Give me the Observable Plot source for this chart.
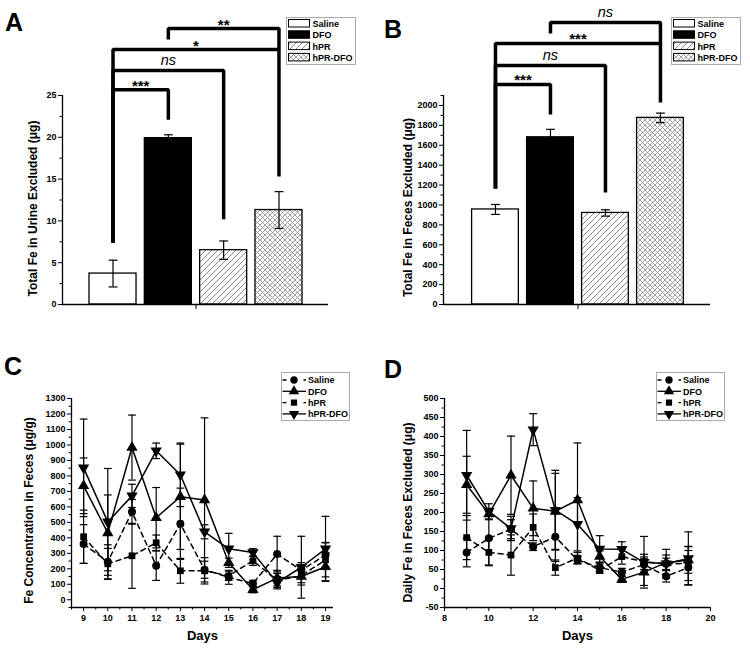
<!DOCTYPE html>
<html><head><meta charset="utf-8">
<script src="https://cdn.jsdelivr.net/npm/d3@7"></script>
<script src="https://cdn.jsdelivr.net/npm/@observablehq/plot@0.6"></script>
<style>
body{margin:0;background:#fff;}
#fig{position:relative;width:750px;height:658px;overflow:hidden;font-family:"Liberation Sans",Arial,sans-serif;}
.letter{position:absolute;font-weight:bold;font-size:25px;line-height:1;font-family:"Liberation Sans",Arial,sans-serif;}
</style></head><body>
<svg width="0" height="0" style="position:absolute;left:0;top:0"><defs>
<pattern id="hatch" patternUnits="userSpaceOnUse" width="6" height="6">
<rect width="6" height="6" fill="white"/>
<path d="M0,6 L6,0 M-1.5,1.5 L1.5,-1.5 M4.5,7.5 L7.5,4.5" stroke="#8a8a8a" stroke-width="1"/>
</pattern>
<pattern id="cross" patternUnits="userSpaceOnUse" width="5" height="5">
<rect width="5" height="5" fill="white"/>
<path d="M0,5 L5,0 M0,0 L5,5 M-1,1 L1,-1 M4,6 L6,4 M-1,4 L1,6 M4,-1 L6,1" stroke="#8a8a8a" stroke-width="0.8"/>
</pattern>
</defs></svg>
<div id="fig"></div>
<script>
// ---------- data ----------
const groups = ["Saline", "DFO", "hPR", "hPR-DFO"];
const groupPos = [1, 2, 3, 4];
const urineMean = [3.7, 19.9, 6.5, 11.3];
const urineErr = [1.6, 0.4, 1.1, 2.2];
const fecesMean = [955, 1680, 920, 1875];
const fecesErr = [50, 80, 32, 48];
const urineTicks = [0, 5, 10, 15, 20, 25];
const urineMinor = [2.5, 7.5, 12.5, 17.5, 22.5];
const fecesTicks = [0, 200, 400, 600, 800, 1000, 1200, 1400, 1600, 1800, 2000];
const fecesMinor = [100, 300, 500, 700, 900, 1100, 1300, 1500, 1700, 1900, 2100];
// [leftGroup, rightGroup, top, leftFoot, rightFoot, label]
const urineBrackets = [
  [0, 1, 25.7, 7.4, 22.1, "***"],
  [0, 2, 28.0, 7.4, 10.2, "ns"],
  [0, 3, 30.5, 7.4, 15.3, "*"],
  [1, 3, 33.0, 31.7, 30.5, "**"]
];
const fecesBrackets = [
  [0, 1, 2211, 1166, 1910, "***"],
  [0, 2, 2402, 1166, 1126, "ns"],
  [0, 3, 2623, 1166, 2030, "***"],
  [1, 3, 2834, 2723, 2623, "ns"]
];

const days = [9, 10, 11, 12, 13, 14, 15, 16, 17, 18, 19];
const concSaline = [360, 245, 568, 220, 491, 194, 145, 105, 295, 190, 290];
const concSalineErr = [125, 110, 80, 95, 230, 55, 45, 20, 115, 50, 80];
const concDFO = [736, 432, 983, 530, 665, 645, 239, 65, 140, 150, 213];
const concDFOErr = [180, 245, 210, 195, 340, 530, 30, 20, 50, 55, 90];
const concHPR = [407, 232, 284, 368, 187, 187, 155, 252, 125, 155, 258];
const concHPRErr = [172, 100, 210, 50, 80, 85, 30, 30, 45, 45, 110];
const concHPRDFO = [852, 503, 671, 962, 807, 439, 329, 305, 110, 210, 329];
const concHPRDFOErr = [315, 345, 75, 50, 205, 45, 100, 25, 40, 200, 210];

const dailySaline = [95, 132, 156, 110, 136, 75, 55, 43, 63, 32, 55];
const dailySalineErr = [38, 70, 25, 10, 65, 10, 10, 10, 20, 15, 45];
const dailyDFO = [273, 196, 298, 211, 203, 233, 84, 24, 43, 68, 75];
const dailyDFOErr = [75, 15, 103, 72, 100, 150, 15, 8, 35, 20, 35];
const dailyHPR = [134, 95, 88, 161, 55, 80, 48, 84, 70, 65, 66];
const dailyHPRErr = [58, 35, 53, 35, 20, 15, 8, 20, 20, 15, 45];
const dailyHPRDFO = [298, 203, 158, 418, 206, 169, 104, 103, 69, 65, 79];
const dailyHPRDFOErr = [118, 20, 32, 42, 105, 70, 35, 20, 68, 38, 70];

const concTicks = d3.range(0, 1301, 100);
const concMinor = d3.range(-50, 1300, 100);
const concXTicks = days;
const concXMinor = [8.5, 9.5, 10.5, 11.5, 12.5, 13.5, 14.5, 15.5, 16.5, 17.5, 18.5];
const dailyTicks = d3.range(-50, 501, 50);
const dailyMinor = d3.range(-25, 500, 50);
const dailyXTicks = [8, 10, 12, 14, 16, 18, 20];
const dailyXMinor = [9, 11, 13, 15, 17, 19];

// ---------- helpers ----------
const FONT = "Liberation Sans, Arial, sans-serif";
const barFill = {"Saline": "white", "DFO": "black", "hPR": "url(#hatch)", "hPR-DFO": "url(#cross)"};
const triangleDown = {
  draw(context, size) {
    const y = -Math.sqrt(size / (Math.sqrt(3) * 3));
    context.moveTo(0, -y * 2);
    context.lineTo(-Math.sqrt(3) * y, y);
    context.lineTo(Math.sqrt(3) * y, y);
    context.closePath();
  }
};
const fig = document.getElementById("fig");
function place(node, left, top) {
  node.style.position = "absolute";
  node.style.left = left + "px";
  node.style.top = top + "px";
  fig.appendChild(node);
}
function letter(t, left, top) {
  const d = document.createElement("div");
  d.className = "letter"; d.textContent = t;
  d.style.left = left + "px"; d.style.top = top + "px";
  fig.appendChild(d);
}
const svgStyle = {fontFamily: FONT, fontSize: "9px", fontWeight: "bold", background: "transparent", overflow: "visible"};

function barPanel(o) {
  const bars = groups.map((g, i) => ({g, x: groupPos[i], y: o.mean[i], e: o.err[i]}));
  const legs = o.brackets.flatMap((b, k) => {
    const xl = groupPos[b[0]], xr = groupPos[b[1]];
    return [{k, x: xl, y: b[3]}, {k, x: xl, y: b[2]}, {k, x: xr, y: b[2]}, {k, x: xr, y: b[4]}];
  });
  const labels = o.brackets.map(b => ({x: (groupPos[b[0]] + groupPos[b[1]]) / 2, y: b[2], t: b[5]}));
  const cw = 0.08;
  return Plot.plot({
    width: 375, height: 320, marginTop: 95, marginBottom: 16, marginLeft: o.ml, marginRight: o.mr,
    x: {domain: o.xdomain}, y: {domain: o.ydomain},
    style: svgStyle,
    marks: [
      ...bars.map(b => Plot.rectY([b], {x1: d => d.x - 0.425, x2: d => d.x + 0.425, y1: 0, y2: "y", fill: barFill[b.g], stroke: "black", strokeWidth: 1.3})),
      Plot.ruleX(bars, {x: "x", y1: d => d.y - d.e, y2: d => d.y + d.e, strokeWidth: 1.2}),
      Plot.link(bars, {x1: d => d.x - cw, x2: d => d.x + cw, y1: d => d.y + d.e, y2: d => d.y + d.e, strokeWidth: 1.2}),
      Plot.link(bars, {x1: d => d.x - cw, x2: d => d.x + cw, y1: d => d.y - d.e, y2: d => d.y - d.e, strokeWidth: 1.2}),
      Plot.line(legs, {x: "x", y: "y", z: "k", strokeWidth: 3.5, strokeLinejoin: "miter", strokeLinecap: "butt"}),
      Plot.text(labels.filter(d => d.t === "ns"), {x: "x", y: "y", text: "t", lineAnchor: "bottom", dy: -5, fontStyle: "italic", fontWeight: "normal", fontSize: 14.5}),
      Plot.text(labels.filter(d => d.t !== "ns"), {x: "x", y: "y", text: "t", lineAnchor: "bottom", dy: 1, fontWeight: "bold", fontSize: 15}),
      Plot.ruleX([o.xdomain[0]], {y1: o.ydomain[0], y2: o.ydomain[1], strokeWidth: 1.3}),
      Plot.ruleY([0], {x1: o.xdomain[0], x2: o.xdomain[1], strokeWidth: 1.3}),
      Plot.axisY({ticks: o.yticks, tickSize: 4, tickPadding: 2, tickFormat: d => String(d), label: null, fontWeight: "bold", fontSize: 9}),
      Plot.axisY({ticks: o.yminor, tickSize: 2.5, tickFormat: () => "", label: null}),
      Plot.axisX({ticks: [2.5], tickSize: 5, tickFormat: () => "", label: null}),
      Plot.text([o.ylabel], {text: d => d, frameAnchor: "left", rotate: -90, textAnchor: "middle", dx: -(o.ml - 33), dy: o.titleDy, fontWeight: "bold", fontSize: 12})
    ]
  });
}

function linePanel(o) {
  const rows = o.series.flatMap(s => days.map((d, i) => ({s: s.name, day: d, v: s.values[i], e: s.errs[i]})));
  const cw = o.capW;
  return Plot.plot({
    width: 375, height: 338, marginTop: 78, marginBottom: 51, marginLeft: o.ml, marginRight: o.mr,
    x: {domain: o.xdomain}, y: {domain: o.ydomain},
    style: svgStyle,
    marks: [
      Plot.ruleX(rows, {x: "day", y1: d => d.v - d.e, y2: d => d.v + d.e, strokeWidth: 1.2}),
      Plot.link(rows, {x1: d => d.day - cw, x2: d => d.day + cw, y1: d => d.v + d.e, y2: d => d.v + d.e, strokeWidth: 1.2}),
      Plot.link(rows, {x1: d => d.day - cw, x2: d => d.day + cw, y1: d => d.v - d.e, y2: d => d.v - d.e, strokeWidth: 1.2}),
      ...o.series.map(s => Plot.line(rows.filter(r => r.s === s.name), {x: "day", y: "v", strokeWidth: 1.5, ...(s.dash ? {strokeDasharray: "5,4"} : {})})),
      ...o.series.map(s => Plot.dot(rows.filter(r => r.s === s.name), {x: "day", y: "v", symbol: s.symbol, r: s.r, fill: "black", stroke: "none"})),
      Plot.ruleX([o.xdomain[0]], {y1: o.ydomain[0], y2: o.ydomain[1], strokeWidth: 1.3}),
      Plot.ruleY([o.ydomain[0]], {x1: o.xdomain[0], x2: o.xdomain[1], strokeWidth: 1.3}),
      Plot.axisX({ticks: o.xticks, tickSize: 4, tickPadding: 3, tickFormat: d => String(d), label: null, fontWeight: "bold", fontSize: 9}),
      Plot.axisX({ticks: o.xminor, tickSize: 2.5, tickFormat: () => "", label: null}),
      Plot.axisY({ticks: o.yticks, tickSize: 4, tickPadding: 2, tickFormat: d => String(d), label: null, fontWeight: "bold", fontSize: 9}),
      Plot.axisY({ticks: o.yminor, tickSize: 2.5, tickFormat: () => "", label: null}),
      Plot.text([o.ylabel], {text: d => d, frameAnchor: "left", rotate: -90, textAnchor: "middle", dx: -(o.ml - o.titleX), dy: o.titleDy, fontWeight: "bold", fontSize: 12}),
      Plot.text(["Days"], {text: d => d, frameAnchor: "bottom", dy: 32, fontWeight: "bold", fontSize: 13})
    ]
  });
}

function barLegend(left, top) {
  const w = 70, h = 48;
  const svg = d3.create("svg").attr("width", w).attr("height", h);
  svg.append("rect").attr("x", 0.5).attr("y", 0.5).attr("width", w - 1).attr("height", h - 1).attr("fill", "white").attr("stroke", "#aaa");
  groups.forEach((g, i) => {
    const y = 2.5 + i * 11.3;
    svg.append("rect").attr("x", 2.5).attr("y", y).attr("width", 21).attr("height", 7.5).attr("fill", barFill[g]).attr("stroke", "black").attr("stroke-width", 1);
    svg.append("text").attr("x", 26.5).attr("y", y + 7.5).attr("font-family", FONT).attr("font-weight", "bold").attr("font-size", 9).text(g);
  });
  place(svg.node(), left, top);
}

function lineLegend(left, top, series) {
  const w = 69, h = 49;
  const svg = d3.create("svg").attr("width", w).attr("height", h);
  svg.append("rect").attr("x", 0.5).attr("y", 0.5).attr("width", w - 1).attr("height", h - 1).attr("fill", "white").attr("stroke", "#aaa");
  series.forEach((s, i) => {
    const y = 8 + i * 11.3;
    const ln = svg.append("line").attr("x1", 1.5).attr("x2", 25).attr("y1", y).attr("y2", y).attr("stroke", "black").attr("stroke-width", 1.3);
    if (s.dash) ln.attr("stroke-dasharray", "4,6.5");
    const type = s.symbol === "circle" ? d3.symbolCircle : s.symbol === "square" ? d3.symbolSquare : s.symbol === "triangle" ? d3.symbolTriangle : triangleDown;
    svg.append("path").attr("d", d3.symbol().type(type).size(Math.PI * s.r * s.r * 0.85)()).attr("transform", `translate(13,${y})`).attr("fill", "black");
    svg.append("text").attr("x", 27).attr("y", y + 3.3).attr("font-family", FONT).attr("font-weight", "bold").attr("font-size", 9).text(s.name);
  });
  place(svg.node(), left, top);
}

// ---------- panels ----------
place(barPanel({mean: urineMean, err: urineErr, brackets: urineBrackets, yticks: urineTicks, yminor: urineMinor,
  ydomain: [0, 25], xdomain: [0.087, 4.895], ml: 62, mr: 47, titleDy: 8.5, ylabel: "Total Fe in Urine Excluded (μg)"}), 0, 0);
place(barPanel({mean: fecesMean, err: fecesErr, brackets: fecesBrackets, yticks: fecesTicks, yminor: fecesMinor,
  ydomain: [0, 2100], xdomain: [0.055, 4.91], ml: 68, mr: 40, titleDy: 7.5, ylabel: "Total Fe in Feces Excluded (μg)"}), 375, 0);

const concSeries = [
  {name: "Saline", values: concSaline, errs: concSalineErr, symbol: "circle", r: 4, dash: true},
  {name: "DFO", values: concDFO, errs: concDFOErr, symbol: "triangle", r: 4.2, dash: false},
  {name: "hPR", values: concHPR, errs: concHPRErr, symbol: "square", r: 3.8, dash: true},
  {name: "hPR-DFO", values: concHPRDFO, errs: concHPRDFOErr, symbol: triangleDown, r: 4.2, dash: false}
];
const dailySeries = [
  {name: "Saline", values: dailySaline, errs: dailySalineErr, symbol: "circle", r: 4, dash: true},
  {name: "DFO", values: dailyDFO, errs: dailyDFOErr, symbol: "triangle", r: 4.2, dash: false},
  {name: "hPR", values: dailyHPR, errs: dailyHPRErr, symbol: "square", r: 3.8, dash: true},
  {name: "hPR-DFO", values: dailyHPRDFO, errs: dailyHPRDFOErr, symbol: triangleDown, r: 4.2, dash: false}
];
place(linePanel({series: concSeries, xdomain: [8.5, 19.33], ydomain: [-50, 1300], xticks: concXTicks, xminor: concXMinor,
  yticks: concTicks, yminor: concMinor, capW: 0.16, ml: 71, mr: 42, titleX: 29, titleDy: 7.5,
  ylabel: "Fe Concentration in Feces (μg/g)"}), 0, 320);
place(linePanel({series: dailySeries, xdomain: [8, 20], ydomain: [-50, 500], xticks: dailyXTicks, xminor: dailyXMinor,
  yticks: dailyTicks, yminor: dailyMinor, capW: 0.18, ml: 69, mr: 40, titleX: 33, titleDy: 9.5,
  ylabel: "Daily Fe in Feces Excluded (μg)"}), 375, 320);

barLegend(286, 17);
barLegend(671, 17);
lineLegend(281, 372, concSeries);
lineLegend(656, 372, dailySeries);

letter("A", 5, 10);
letter("B", 384, 17);
letter("C", 4, 354);
letter("D", 384, 357);
</script>
</body></html>
